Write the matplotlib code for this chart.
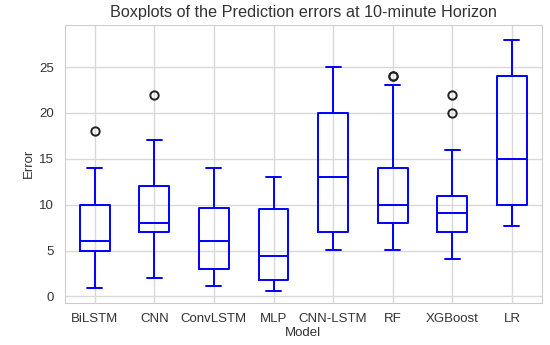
import matplotlib
matplotlib.use("Agg")
import matplotlib.pyplot as plt
import seaborn as sns

models = ["BiLSTM", "CNN", "ConvLSTM", "MLP", "CNN-LSTM", "RF", "XGBoost", "LR"]
whislo = [0.9, 2.0, 1.1, 0.6, 5.1, 5.1, 4.1, 7.7]
q1 = [5.0, 7.0, 3.0, 1.8, 7.0, 8.0, 7.0, 10.0]
med = [6.0, 8.0, 6.0, 4.4, 13.0, 10.0, 9.1, 15.0]
q3 = [10.0, 12.0, 9.6, 9.5, 20.0, 14.0, 11.0, 24.0]
whishi = [14.0, 17.0, 14.0, 13.0, 25.0, 23.0, 16.0, 28.0]
fliers = [[18.0], [22.0], [], [], [], [24.0, 24.05], [20.0, 22.0], []]

sns.set_style("whitegrid")
plt.rcParams["font.family"] = ["Liberation Sans", "DejaVu Sans"]

stats = []
for i, m in enumerate(models):
    stats.append(dict(label=m, whislo=whislo[i], q1=q1[i], med=med[i],
                      q3=q3[i], whishi=whishi[i], fliers=fliers[i]))

fig = plt.figure(figsize=(5.5, 3.45), dpi=100)
ax = fig.add_axes([0.118, 0.122, 0.867, 0.806])
blue = "#0000ff"
line = dict(color=blue, linewidth=1.4)
ax.bxp(stats, widths=0.5,
       boxprops=line, whiskerprops=line, capprops=line, medianprops=line,
       flierprops=dict(marker="o", markerfacecolor="none",
                       markeredgecolor="#222222", markersize=6, markeredgewidth=1.4))
ax.set_ylim(-0.7, 29.6)
ax.set_yticks([0, 5, 10, 15, 20, 25])
ax.grid(True, color="#d9d9d9", linewidth=1)
ax.tick_params(labelsize=9.5, colors="#333333", length=0)
ax.tick_params(axis="x", pad=7)
ax.tick_params(axis="y", pad=8)
for s in ax.spines.values():
    s.set_color("#cccccc")
ax.set_title("Boxplots of the Prediction errors at 10-minute Horizon",
             fontsize=11.7, color="#333333", pad=6)
ax.set_xlabel("Model", fontsize=9.5, color="#333333", labelpad=2)
ax.set_ylabel("Error", fontsize=9.5, color="#333333", labelpad=3)
fig.savefig("out.png", dpi=100)
